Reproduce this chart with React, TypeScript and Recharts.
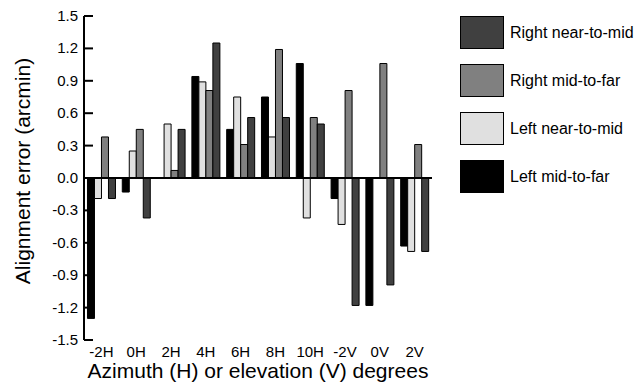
import React from "react";
import { BarChart, Bar, XAxis, YAxis, ReferenceLine, Legend } from "recharts";

// direction of the target (H = azimuth, V = elevation)
const categories = ["-2H", "0H", "2H", "4H", "6H", "8H", "10H", "-2V", "0V", "2V"];

// alignment error, arcmin
const leftMidToFar = [-1.3, -0.13, 0, 0.94, 0.45, 0.75, 1.06, -0.19, -1.18, -0.63];
const leftNearToMid = [-0.19, 0.25, 0.5, 0.89, 0.75, 0.38, -0.37, -0.43, 0, -0.68];
const rightMidToFar = [0.38, 0.45, 0.07, 0.81, 0.31, 1.19, 0.56, 0.81, 1.06, 0.31];
const rightNearToMid = [-0.19, -0.37, 0.45, 1.25, 0.56, 0.56, 0.5, -1.18, -0.99, -0.68];

const yTicks = [-1.5, -1.2, -0.9, -0.6, -0.3, 0, 0.3, 0.6, 0.9, 1.2, 1.5];

const data = categories.map((name, i) => ({
  name,
  lmf: leftMidToFar[i],
  lnm: leftNearToMid[i],
  rmf: rightMidToFar[i],
  rnm: rightNearToMid[i],
}));

const YTick = (props: any) => {
  const { x, y, payload } = props;
  return (
    <g>
      <line x1={x + 6} x2={x + 15} y1={y} y2={y} stroke="#000" strokeWidth={2} />
      <text x={x} y={y} dy={5} textAnchor="end" fontSize={15} fill="#000">
        {Number(payload.value).toFixed(1)}
      </text>
    </g>
  );
};

const YTitle = (props: any) => {
  const vb = props.viewBox;
  const cx = 22;
  const cy = vb.y + vb.height / 2 - 7;
  return (
    <text
      x={cx}
      y={cy}
      transform={`rotate(-90, ${cx}, ${cy})`}
      textAnchor="middle"
      dominantBaseline="central"
      fontSize={21}
      fill="#000"
    >
      Alignment error (arcmin)
    </text>
  );
};

const XTitle = (props: any) => {
  const vb = props.viewBox;
  return (
    <text x={vb.x + vb.width / 2} y={vb.y + 38} textAnchor="middle" fontSize={21} fill="#000">
      Azimuth (H) or elevation (V) degrees
    </text>
  );
};

const LegendBox = (props: any) => {
  const items = [...(props.payload || [])].reverse();
  return (
    <div>
      {items.map((p: any) => (
        <div key={p.value} style={{ display: "flex", alignItems: "center", height: 33, marginBottom: 15 }}>
          <div
            style={{
              width: 44,
              height: 33,
              background: p.color,
              border: "1px solid #000",
              boxSizing: "border-box",
            }}
          />
          <span style={{ marginLeft: 6, fontSize: 16, color: "#000" }}>{p.value}</span>
        </div>
      ))}
    </div>
  );
};

export default function App() {
  return (
    <div style={{ position: "absolute", left: 0, top: 0, fontFamily: "'Liberation Sans', Arial, sans-serif" }}>
      <BarChart
        width={638}
        height={384}
        data={data}
        margin={{ top: 16, right: 206, left: 0, bottom: 0 }}
        barCategoryGap="10%"
        barGap={0}
      >
        <XAxis
          dataKey="name"
          axisLine={false}
          tickLine={false}
          tickSize={0}
          tickMargin={6}
          interval={0}
          height={44}
          tick={{ fontSize: 15, fill: "#000" }}
          label={<XTitle />}
        />
        <YAxis
          domain={[-1.5, 1.5]}
          ticks={yTicks}
          width={84}
          tickSize={0}
          tickMargin={6}
          axisLine={{ stroke: "#000", strokeWidth: 2 }}
          tickLine={false}
          tick={<YTick />}
          interval={0}
          label={<YTitle />}
        />
        <Legend
          layout="vertical"
          align="center"
          verticalAlign="middle"
          wrapperStyle={{ left: 460, top: 16, width: 178 }}
          content={<LegendBox />}
        />
        <Bar dataKey="lmf" name="Left mid-to-far" fill="#000000" stroke="#000" strokeWidth={1} isAnimationActive={false} />
        <Bar dataKey="lnm" name="Left near-to-mid" fill="#e0e0e0" stroke="#000" strokeWidth={1} isAnimationActive={false} />
        <Bar dataKey="rmf" name="Right mid-to-far" fill="#808080" stroke="#000" strokeWidth={1} isAnimationActive={false} />
        <Bar dataKey="rnm" name="Right near-to-mid" fill="#404040" stroke="#000" strokeWidth={1} isAnimationActive={false} />
        <ReferenceLine y={0} stroke="#000" strokeWidth={2} />
      </BarChart>
    </div>
  );
}
